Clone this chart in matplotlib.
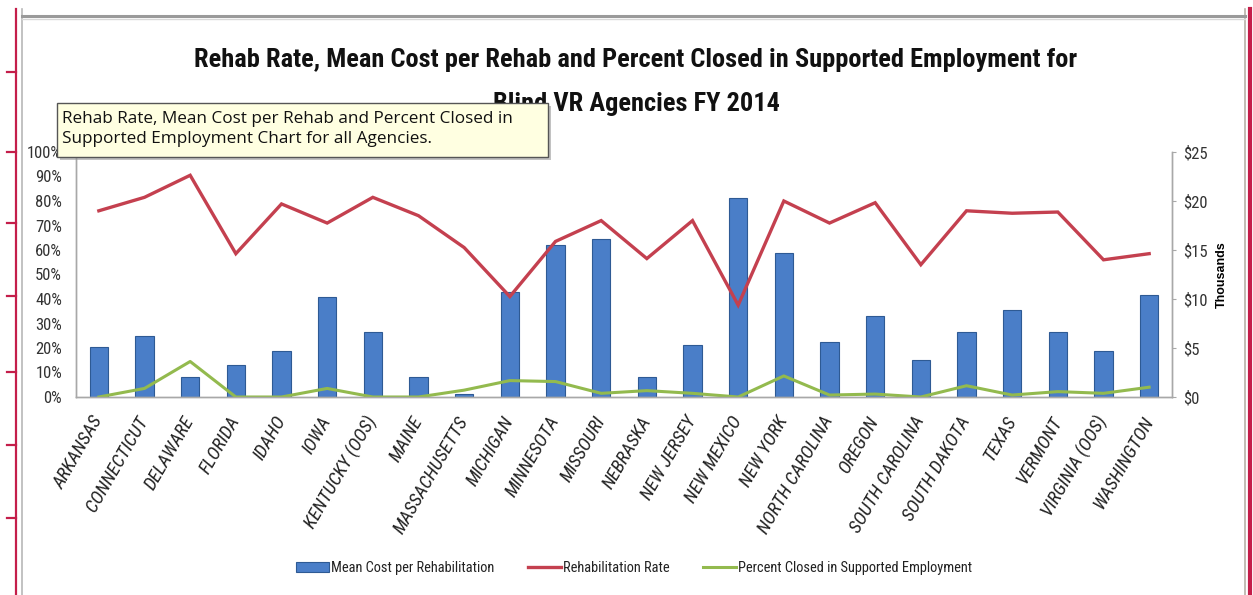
import matplotlib
matplotlib.use("Agg")
import matplotlib.pyplot as plt
from matplotlib import font_manager
from matplotlib.lines import Line2D
from matplotlib.patches import Rectangle, Patch
from matplotlib.ticker import FixedLocator, FuncFormatter

# ---- data -------------------------------------------------------------
agencies = [
    "ARKANSAS", "CONNECTICUT", "DELAWARE", "FLORIDA", "IDAHO", "IOWA",
    "KENTUCKY (OOS)", "MAINE", "MASSACHUSETTS", "MICHIGAN", "MINNESOTA",
    "MISSOURI", "NEBRASKA", "NEW JERSEY", "NEW MEXICO", "NEW YORK",
    "NORTH CAROLINA", "OREGON", "SOUTH CAROLINA", "SOUTH DAKOTA", "TEXAS",
    "VERMONT", "VIRGINIA (OOS)", "WASHINGTON",
]
# mean cost per rehabilitation, $ thousands
mean_cost_k = [5.1, 6.2, 2.0, 3.3, 4.7, 10.2, 6.6, 2.0, 0.3, 10.7, 15.5,
               16.1, 2.0, 5.3, 20.3, 14.7, 5.6, 8.3, 3.8, 6.6, 8.9, 6.6,
               4.7, 10.4]
# rehabilitation rate, percent
rehab_rate = [76.0, 81.5, 90.5, 58.5, 78.8, 71.0, 81.5, 74.0, 61.0, 41.0,
              63.5, 72.0, 56.5, 72.0, 37.5, 80.0, 71.0, 79.3, 54.0, 76.0,
              75.0, 75.5, 56.0, 58.5]
# percent closed in supported employment
pct_supported = [0.0, 3.5, 14.5, 0.0, 0.0, 3.5, 0.0, 0.0, 2.8, 6.7, 6.3,
                 1.5, 2.6, 1.5, 0.0, 8.6, 0.8, 1.2, 0.0, 4.6, 0.8, 2.2,
                 1.5, 4.0]

pct_ticks = list(range(0, 101, 10))
cost_ticks = [0, 5, 10, 15, 20, 25]

title_lines = [
    "Rehab Rate, Mean Cost per Rehab and Percent Closed in Supported Employment for",
    "Blind VR Agencies FY 2014",
]
tooltip_text = ("Rehab Rate, Mean Cost per Rehab and Percent Closed in\n"
                "Supported Employment Chart for all Agencies.")
legend_labels = ["Mean Cost per Rehabilitation", "Rehabilitation Rate",
                 "Percent Closed in Supported Employment"]


# ---- fonts ------------------------------------------------------------
FONT_ENTRIES = font_manager.fontManager.ttflist
FONT_NAMES = {f.name for f in FONT_ENTRIES}


def pick_narrow():
    """Return (family, stretch) for the narrowest sans face available."""
    for fam in ("Liberation Sans Narrow", "Roboto Condensed",
                "Open Sans Condensed", "Noto Sans Condensed",
                "DejaVu Sans Condensed"):
        if fam in FONT_NAMES:
            return fam, "normal"
    for fam in ("DejaVu Sans", "Noto Sans", "Open Sans", "Roboto"):
        for f in FONT_ENTRIES:
            if f.name == fam and str(f.stretch) in ("condensed", "semi-condensed"):
                return fam, "condensed"
    return None, "normal"


def has_italic(fam):
    return any(f.name == fam and f.style in ("italic", "oblique")
               for f in FONT_ENTRIES)


NARROW_FAMILY, NARROW_STRETCH = pick_narrow()
HAVE_NARROW = NARROW_FAMILY is not None
NARROW = [NARROW_FAMILY or "Liberation Sans", "DejaVu Sans"]
# a narrow face runs about 18% slimmer than Liberation Sans
K = 1.0 if HAVE_NARROW else 0.84


def nfont(size, **kw):
    return font_manager.FontProperties(family=NARROW, stretch=NARROW_STRETCH,
                                       size=size * K, **kw)


# italic face for the category labels
if HAVE_NARROW and has_italic(NARROW_FAMILY):
    XLAB_FONT = nfont(13.5, style="italic")
elif has_italic("Roboto"):
    XLAB_FONT = font_manager.FontProperties(family=["Roboto", "DejaVu Sans"],
                                            style="italic", size=10.8)
else:
    XLAB_FONT = font_manager.FontProperties(family=["Liberation Sans", "DejaVu Sans"],
                                            style="italic", size=9.8)

# ---- styling ----------------------------------------------------------
BAR = "#4A7EC8"
BAR_EDGE = "#2E5A94"
RED = "#C4404F"
GREEN = "#93BA4E"
AXIS = "#A8A8A8"
PAGE_RED = "#C41E4A"

W, H = 1253, 595
fig = plt.figure(figsize=(W / 100, H / 100), dpi=100)
fig.patch.set_facecolor("white")


def fx(px):
    return px / W


def fy(py):
    return 1 - py / H


# ---- page decorations -------------------------------------------------
fig.add_artist(Line2D([fx(16), fx(16)], [fy(9), fy(595)], color=PAGE_RED, lw=1.6))
for ty in (72, 152, 223, 296, 372, 445, 518):
    fig.add_artist(Line2D([fx(7), fx(16)], [fy(ty), fy(ty)], color=PAGE_RED, lw=1.6))
fig.add_artist(Line2D([fx(1250), fx(1250)], [fy(9), fy(595)], color=PAGE_RED, lw=3))
fig.add_artist(Line2D([fx(22), fx(22)], [fy(9), fy(595)], color="#B8B8B8", lw=1.2))
fig.add_artist(Line2D([fx(1245), fx(1245)], [fy(9), fy(595)], color="#B8B0A8", lw=1.2))
fig.add_artist(Line2D([fx(22), fx(1245)], [fy(16), fy(16)], color="#9A9A9A", lw=2.2))
fig.add_artist(Line2D([fx(22), fx(1245)], [fy(18.5), fy(18.5)], color="#D8D8D8", lw=1.0))

# ---- axes -------------------------------------------------------------
ax = fig.add_axes([fx(76), fy(397), fx(1172) - fx(76), fy(152) - fy(397)])
ax2 = ax.twinx()
ax.set_zorder(ax2.get_zorder() + 1)
ax.patch.set_visible(False)

x = list(range(len(agencies)))
ax2.bar(x, mean_cost_k, width=0.4, color=BAR, edgecolor=BAR_EDGE, linewidth=0.8)
ax.plot(x, rehab_rate, color=RED, lw=2.4, solid_joinstyle="miter")
ax.plot(x, pct_supported, color=GREEN, lw=2.2, solid_joinstyle="round")

ax.set_xlim(-0.5, len(agencies) - 0.5)
ax.set_ylim(0, 100)
ax2.set_ylim(0, 25)

ax.yaxis.set_major_locator(FixedLocator(pct_ticks))
ax.yaxis.set_major_formatter(FuncFormatter(lambda v, p: f"{v:.0f}%"))
ax2.yaxis.set_major_locator(FixedLocator(cost_ticks))
ax2.yaxis.set_major_formatter(FuncFormatter(lambda v, p: f"${v:.0f}"))

for a in (ax, ax2):
    for s in a.spines.values():
        s.set_color(AXIS)
        s.set_linewidth(1.0)
    a.spines["top"].set_visible(False)

ax.tick_params(axis="y", length=0, pad=10, labelcolor="#333333")
ax2.tick_params(axis="y", length=3, width=0.8, color=AXIS, pad=5,
                labelcolor="#333333")
for lab in ax.get_yticklabels() + ax2.get_yticklabels():
    lab.set_fontproperties(nfont(12))

ax.set_xticks(x)
ax.set_xticklabels(agencies, rotation=60, ha="right", va="center",
                   rotation_mode="anchor", color="#222222")
for lab in ax.get_xticklabels():
    lab.set_fontproperties(XLAB_FONT)
ax.tick_params(axis="x", length=0, pad=15)

ax2.set_ylabel("Thousands", fontsize=9, fontweight="bold",
               family=["Liberation Sans", "DejaVu Sans"], labelpad=6)

# ---- title ------------------------------------------------------------
for line, ty in zip(title_lines, (60, 104)):
    fig.text(fx(636), fy(ty), line, ha="center", va="center",
             fontproperties=nfont(19, weight="bold"), color="#111111")

# ---- tooltip ----------------------------------------------------------
fig.add_artist(Rectangle((fx(60), fy(160)), fx(548) - fx(57), fy(103) - fy(157),
                         transform=fig.transFigure, facecolor="#9A9A9A",
                         edgecolor="none", alpha=0.6, zorder=9))
fig.add_artist(Rectangle((fx(57), fy(157)), fx(548) - fx(57), fy(103) - fy(157),
                         transform=fig.transFigure, facecolor="#FFFFE1",
                         edgecolor="#555555", lw=1.0, zorder=10))
fig.text(fx(62), fy(129), tooltip_text, ha="left", va="center", fontsize=12.3,
         family=["Open Sans", "DejaVu Sans"], color="#111111",
         linespacing=1.3, zorder=11)

# ---- legend -----------------------------------------------------------
handles = [
    Patch(facecolor=BAR, edgecolor=BAR_EDGE, linewidth=0.8),
    Line2D([], [], color=RED, lw=2.4),
    Line2D([], [], color=GREEN, lw=2.2),
]
leg = fig.legend(handles, legend_labels, loc="center", ncol=3,
                 bbox_to_anchor=(fx(634), fy(568)), frameon=False,
                 prop=nfont(10.4),
                 handlelength=2.3, handleheight=0.7, handletextpad=0.15,
                 columnspacing=2.3)
for t in leg.get_texts():
    t.set_color("#222222")

fig.savefig("out.png", dpi=100)
